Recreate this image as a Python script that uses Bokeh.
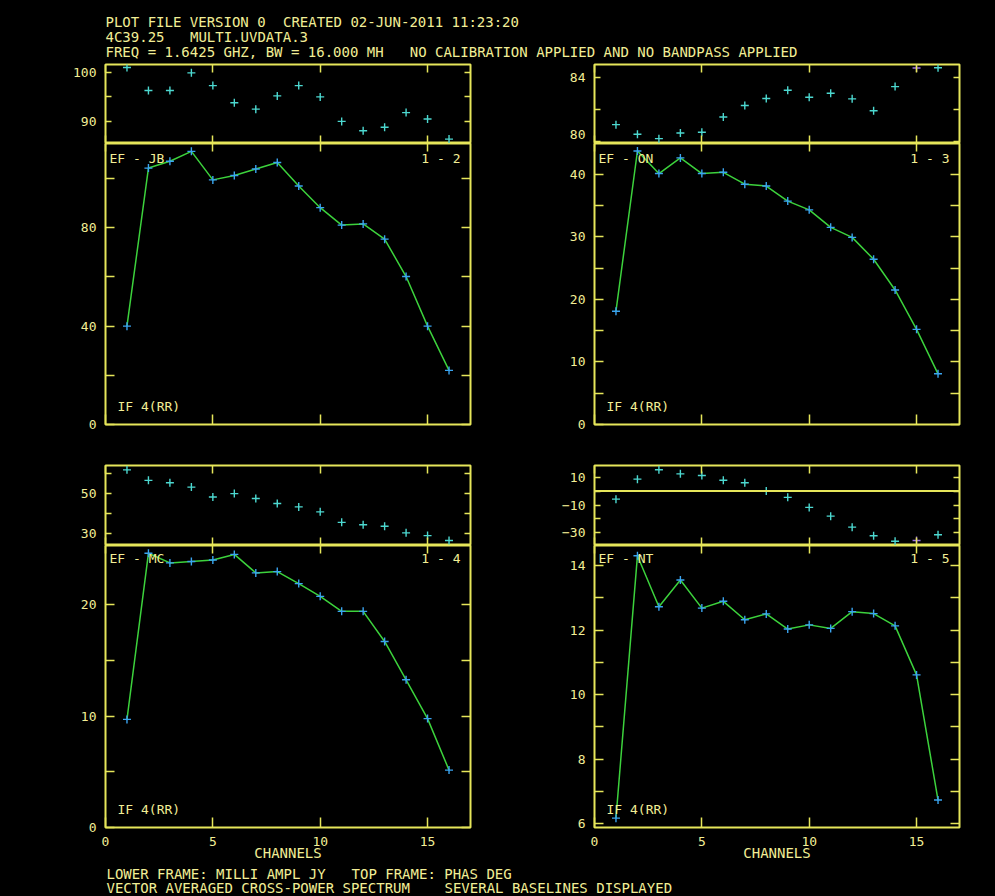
import re
from bokeh.plotting import figure
from bokeh.models import Range1d, LinearAxis, FixedTicker, Label, Span
from bokeh.layouts import column, row
from bokeh.embed import file_html
from bokeh.resources import INLINE
from bokeh.core.properties import value

# ---------------- data ----------------
channels = list(range(1, 17))

pair_names = ["EF - JB", "EF - ON", "EF - MC", "EF - NT"]
baselines = ["1 - 2", "1 - 3", "1 - 4", "1 - 5"]
if_label = "IF 4(RR)"

phase_12 = [101.0, 96.3, 96.3, 99.9, 97.3, 93.8, 92.5, 95.2, 97.3, 95.0, 90.0, 88.1, 88.8, 91.8, 90.5, 86.4]
amp_12 = [40.0, 104.3, 107.1, 111.1, 99.5, 101.3, 103.9, 106.6, 97.0, 88.2, 81.1, 81.6, 75.4, 60.2, 40.0, 22.0]

phase_13 = [81.07, 80.47, 80.2, 80.55, 80.6, 81.54, 82.26, 82.69, 83.2, 82.77, 83.02, 82.67, 81.93, 83.43, 84.58, 84.6]
amp_13 = [18.1, 43.7, 40.1, 42.6, 40.1, 40.3, 38.4, 38.1, 35.7, 34.3, 31.5, 29.9, 26.4, 21.5, 15.2, 8.1]

phase_14 = [62.0, 56.7, 55.5, 53.3, 48.3, 50.0, 47.5, 45.0, 43.3, 40.8, 35.5, 34.3, 33.5, 30.2, 28.8, 26.3]
amp_14 = [9.7, 24.6, 23.74, 23.86, 24.0, 24.5, 22.84, 22.96, 21.88, 20.74, 19.39, 19.39, 16.69, 13.25, 9.77, 5.15]

phase_15 = [-5.8, 8.6, 15.3, 12.4, 11.2, 7.8, 6.0, 0.0, -4.5, -11.7, -18.0, -25.9, -32.1, -36.0, -35.5, -31.4]
amp_15 = [6.17, 14.30, 12.72, 13.55, 12.68, 12.89, 12.32, 12.50, 12.03, 12.16, 12.05, 12.57, 12.51, 12.13, 10.61, 6.73]

# channels whose phase point is drawn in the second colour
flagged_12 = []
flagged_13 = [15]
flagged_14 = []
flagged_15 = [15]

channel_range = (0, 17)
channel_ticks = [0, 5, 10, 15]

# y ranges, labelled ticks and unlabelled ticks of every frame
phase_range_12 = (85.5, 101.6)
phase_ticks_12, phase_minor_12 = [90, 100], [95]
amp_range_12 = (0, 114.3)
amp_ticks_12, amp_minor_12 = [0, 40, 80], [20, 60, 100]

phase_range_13 = (79.9, 84.8)
phase_ticks_13, phase_minor_13 = [80, 84], [82]
amp_range_13 = (0, 44.9)
amp_ticks_13, amp_minor_13 = [0, 10, 20, 30, 40], [5, 15, 25, 35]

phase_range_14 = (23.8, 64.2)
phase_ticks_14, phase_minor_14 = [30, 50], [40, 60]
amp_range_14 = (0, 25.3)
amp_ticks_14, amp_minor_14 = [0, 10, 20], [5, 15]

phase_range_15 = (-39.1, 18.4)
phase_ticks_15, phase_minor_15 = [-30, -10, 10], [-20, 0]
amp_range_15 = (5.88, 14.62)
amp_ticks_15, amp_minor_15 = [6, 8, 10, 12, 14], [7, 9, 11, 13]

header_lines = [
    "PLOT FILE VERSION 0  CREATED 02-JUN-2011 11:23:20",
    "4C39.25   MULTI.UVDATA.3",
    "FREQ = 1.6425 GHZ, BW = 16.000 MH   NO CALIBRATION APPLIED AND NO BANDPASS APPLIED",
]
x_title = "CHANNELS"
footer_lines = [
    "LOWER FRAME: MILLI AMPL JY   TOP FRAME: PHAS DEG",
    "VECTOR AVERAGED CROSS-POWER SPECTRUM    SEVERAL BASELINES DISPLAYED",
]

# ---------------- style ----------------
BG = "black"
FRAME = "#e6e65a"
TEXT = "#f2ee96"
LINE = "#3cd23c"
AMP_MK = "#3aa4f0"
PH_MK = "#4cd8d0"
FLAG_MK = "#9a72e0"
FONT = "DejaVu Sans Mono"
CHAR_W = 8.45   # advance of the 14px monospace font

FRAME_W = 365


def base_fig(width, height, left, right, top, bottom, xr, yr):
    p = figure(width=width, height=height, x_range=Range1d(*xr), y_range=Range1d(*yr),
               output_backend="svg", toolbar_location=None,
               min_border_left=left, min_border_right=right,
               min_border_top=top, min_border_bottom=bottom,
               x_axis_location=None, y_axis_location=None)
    p.background_fill_color = BG
    p.border_fill_color = BG
    p.outline_line_color = FRAME
    p.outline_line_width = 2
    p.xgrid.grid_line_color = None
    p.ygrid.grid_line_color = None
    return p


def add_axis(p, side, ticks, minor, tick_len, labels=False, standoff=8,
             label_shift=None, title=None):
    if label_shift:
        # labels drawn slightly off their tick so they stay on this canvas;
        # the visible tick marks are the minor ones
        shifted = [t + label_shift.get(t, 0) for t in ticks]
        ax = LinearAxis(ticker=FixedTicker(ticks=shifted, minor_ticks=sorted(set(minor) | set(ticks))))
        ax.major_label_overrides = {s: str(t) for s, t in zip(shifted, ticks)}
        ax.major_tick_in = 0
    else:
        ax = LinearAxis(ticker=FixedTicker(ticks=ticks, minor_ticks=minor))
        ax.major_tick_in = tick_len
    ax.major_tick_out = 0
    ax.minor_tick_in = tick_len
    ax.minor_tick_out = 0
    ax.major_tick_line_color = FRAME
    ax.minor_tick_line_color = FRAME
    ax.major_tick_line_width = 1.5
    ax.minor_tick_line_width = 1.5
    ax.axis_line_color = None
    if labels:
        ax.major_label_text_color = TEXT
        ax.major_label_text_font = FONT
        ax.major_label_text_font_size = "13px"
        ax.major_label_standoff = standoff
    else:
        ax.major_label_text_font_size = "0px"
        ax.major_label_standoff = 0
        ax.major_label_text_color = None
    if title:
        ax.axis_label = title
        ax.axis_label_text_color = TEXT
        ax.axis_label_text_font = FONT
        ax.axis_label_text_font_size = "14px"
        ax.axis_label_text_font_style = "normal"
        ax.axis_label_standoff = -4
    p.add_layout(ax, side)
    return ax


def make_phase(width, height, left, right, top, yr, ticks, minor, values, flagged,
               label_shift=None):
    p = base_fig(width, height, left, right, top, 0, channel_range, yr)
    add_axis(p, "above", channel_ticks, [], 8)
    add_axis(p, "below", channel_ticks, [], 8)
    add_axis(p, "left", ticks, minor, 6, labels=True, standoff=9, label_shift=label_shift)
    add_axis(p, "right", ticks, minor, 6)
    if yr[0] < 0 < yr[1]:
        p.add_layout(Span(location=0, dimension="width", line_color=FRAME, line_width=2))
    normal_x = [c for c in channels if c not in flagged]
    normal_y = [v for c, v in zip(channels, values) if c not in flagged]
    flag_x = [c for c in channels if c in flagged]
    flag_y = [v for c, v in zip(channels, values) if c in flagged]
    p.scatter(normal_x, normal_y, marker="cross", size=8, line_color=PH_MK, line_width=1.4)
    if flag_x:
        p.scatter(flag_x, flag_y, marker="cross", size=8, line_color=FLAG_MK, line_width=1.4)
    return p


def make_amp(width, height, left, right, bottom, yr, ticks, minor, values, pair, bl,
             xlabels, top_gap):
    p = base_fig(width, height, left, right, 0, bottom, channel_range, yr)
    add_axis(p, "above", channel_ticks, [], 8)
    add_axis(p, "below", channel_ticks, [], 10, labels=xlabels, standoff=9,
             title=x_title if xlabels else None)
    add_axis(p, "left", ticks, minor, 9, labels=True, standoff=9)
    add_axis(p, "right", ticks, minor, 9)
    p.line(channels, values, line_color=LINE, line_width=1.5)
    p.scatter(channels, values, marker="cross", size=8, line_color=AMP_MK, line_width=1.4)
    frame_h = height - bottom
    common = dict(x_units="screen", y_units="screen", text_color=TEXT, text_font=FONT,
                  text_font_size="13px", text_baseline="middle")
    p.add_layout(Label(x=4, y=frame_h - top_gap, text=pair, text_align="left", **common))
    p.add_layout(Label(x=FRAME_W - 10, y=frame_h - top_gap, text=bl, text_align="right", **common))
    p.add_layout(Label(x=12, y=18, text=if_label, text_align="left", **common))
    return p


def text_block(p, lines, x0, ys):
    """Write monospace lines; runs of spaces are kept by placing each piece at its column."""
    xs, yy, tt = [], [], []
    for line, y in zip(lines, ys):
        for m in re.finditer(r"\S+(?: \S+)*", line):
            xs.append(x0 + m.start() * CHAR_W)
            yy.append(y)
            tt.append(m.group(0))
    p.text(x=xs, y=yy, text=tt, text_font=value(FONT), text_font_size="14px",
           text_color=TEXT, text_baseline="middle", text_align="left")


# ---------------- layout ----------------
L_W, L_L, L_R = 540, 105, 70
R_W, R_L, R_R = 455, 54, 36

header = base_fig(995, 62, 0, 0, 0, 0, (0, 995), (62, 0))
header.outline_line_color = None
text_block(header, header_lines, 105, [21, 36.5, 51.5])

ph12 = make_phase(L_W, 81, L_L, L_R, 2, phase_range_12, phase_ticks_12, phase_minor_12, phase_12, flagged_12)
ph13 = make_phase(R_W, 81, R_L, R_R, 2, phase_range_13, phase_ticks_13, phase_minor_13, phase_13, flagged_13,
                  label_shift={80: 0.45})
am12 = make_amp(L_W, 320, L_L, L_R, 39, amp_range_12, amp_ticks_12, amp_minor_12, amp_12,
                pair_names[0], baselines[0], False, 14.5)
am13 = make_amp(R_W, 320, R_L, R_R, 39, amp_range_13, amp_ticks_13, amp_minor_13, amp_13,
                pair_names[1], baselines[1], False, 14.5)
ph14 = make_phase(L_W, 82, L_L, L_R, 2, phase_range_14, phase_ticks_14, phase_minor_14, phase_14, flagged_14)
ph15 = make_phase(R_W, 82, R_L, R_R, 2, phase_range_15, phase_ticks_15, phase_minor_15, phase_15, flagged_15)
am14 = make_amp(L_W, 319, L_L, L_R, 37, amp_range_14, amp_ticks_14, amp_minor_14, amp_14,
                pair_names[2], baselines[2], True, 13)
am15 = make_amp(R_W, 319, R_L, R_R, 37, amp_range_15, amp_ticks_15, amp_minor_15, amp_15,
                pair_names[3], baselines[3], True, 13)

footer = base_fig(995, 32, 0, 0, 0, 0, (0, 995), (896, 864))
footer.outline_line_color = None
text_block(footer, footer_lines, 106, [873.5, 887.6])

layout = column(
    header,
    row(ph12, ph13),
    row(am12, am13),
    row(ph14, ph15),
    row(am14, am15),
    footer,
    styles={"background-color": "black"},
)

open("out.html", "w").write(file_html(layout, INLINE))
